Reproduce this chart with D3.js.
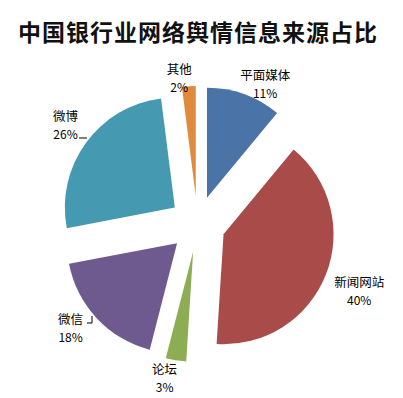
<!DOCTYPE html>
<html>
<head>
<meta charset="utf-8">
<script src="https://cdn.jsdelivr.net/npm/d3@7"></script>
<style>
  body { margin: 0; background: #fff; }
  text { font-family: "Noto Sans CJK SC", "Noto Sans", sans-serif; }
</style>
</head>
<body>
<div id="chart"></div>
<script>
const title = "中国银行业网络舆情信息来源占比";
const categories = ["平面媒体", "新闻网站", "论坛", "微信", "微博", "其他"];
const shares = [11, 40, 3, 18, 26, 2];
const colors = ["#4a73a8", "#a84b49", "#8dad55", "#6f5a90", "#4599b0", "#e08a3d"];

// label placement (polar, around pie centre), excel "best fit" style
const labelAngle = [25.7, 112.5, 192.1, 230.7, 306.9, 352.9];
const labelDist = [156, 175, 157, 164, 165, 148];

const width = 403, height = 398;
const cx = 197.5, cy = 224, radius = 110, explode = 28;

const svg = d3.select("#chart")
  .append("svg")
  .attr("width", width)
  .attr("height", height);

svg.append("text")
  .attr("x", 198)
  .attr("y", 31)
  .attr("text-anchor", "middle")
  .attr("dominant-baseline", "central")
  .attr("font-size", 23)
  .attr("font-weight", 700)
  .attr("letter-spacing", 1)
  .attr("fill", "#111")
  .text(title);

const pie = d3.pie().sort(null).value(d => d);
const arc = d3.arc().innerRadius(0).outerRadius(radius);
const slices = pie(shares);

const g = svg.append("g")
  .attr("transform", `translate(${cx}, ${cy})`);

g.selectAll("path")
  .data(slices)
  .join("path")
  .attr("d", arc)
  .attr("fill", (d, i) => colors[i])
  .attr("transform", d => {
    const mid = (d.startAngle + d.endAngle) / 2;
    return `translate(${Math.sin(mid) * explode}, ${-Math.cos(mid) * explode})`;
  });

const toRad = a => a * Math.PI / 180;

const labels = g.selectAll("g.label")
  .data(slices)
  .join("g")
  .attr("class", "label")
  .attr("transform", (d, i) => {
    const a = toRad(labelAngle[i]);
    return `translate(${Math.sin(a) * labelDist[i]}, ${-Math.cos(a) * labelDist[i]})`;
  });

labels.append("text")
  .attr("y", -9)
  .attr("text-anchor", "middle")
  .attr("dominant-baseline", "central")
  .attr("font-size", 12.5)
  .attr("fill", "#000")
  .text((d, i) => categories[i]);

labels.append("text")
  .attr("y", 9)
  .attr("text-anchor", "middle")
  .attr("dominant-baseline", "central")
  .attr("font-family", "Liberation Sans, Arial, sans-serif")
  .attr("font-size", 12)
  .attr("fill", "#000")
  .text(d => d.value + "%");

// small leader ticks for 微博 and 微信
const leader = d3.line();
g.append("path")
  .attr("d", leader([[79 - cx, 138 - cy], [87 - cx, 138 - cy]]))
  .attr("stroke", "#000").attr("fill", "none");
g.append("path")
  .attr("d", leader([[87 - cx, 323 - cy], [92 - cx, 323 - cy], [92 - cx, 316 - cy]]))
  .attr("stroke", "#000").attr("fill", "none");
</script>
</body>
</html>
